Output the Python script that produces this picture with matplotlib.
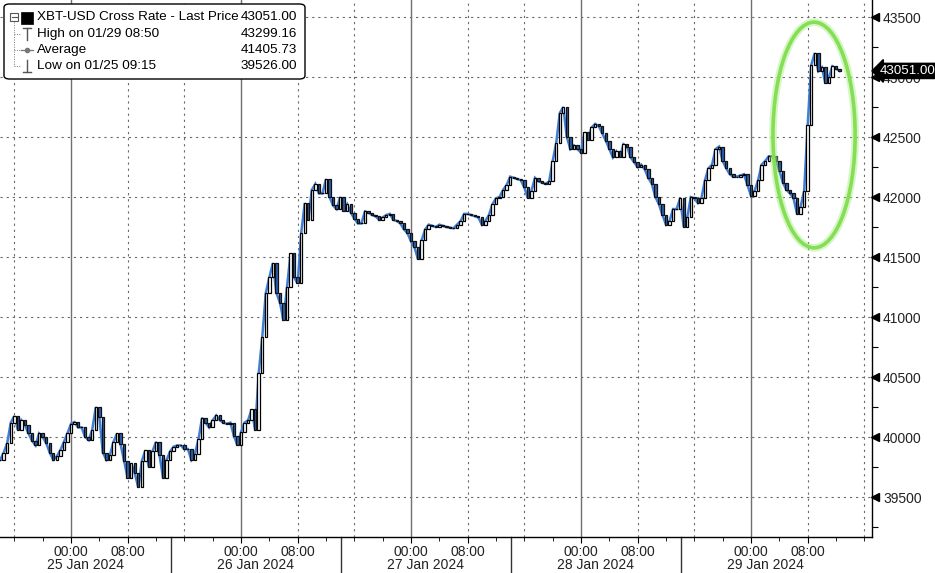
import numpy as np
import matplotlib
matplotlib.use("Agg")
import matplotlib.pyplot as plt
import matplotlib.transforms as mtransforms
from matplotlib import font_manager
from matplotlib.patches import Ellipse, FancyBboxPatch, Rectangle

# ---------------- data (30-minute closes, hours since 25 Jan 2024 00:00) ----------------
start_hour = -10.0          # 24 Jan 2024 14:00
step_hours = 0.5

close_24jan = [39810, 39870, 39950, 40120, 40175, 40060, 40140, 40100, 40030, 39970,
               39930, 40030, 40000, 39950, 39870, 39810, 39840, 39890, 39960, 40030]
close_25jan = [40110, 40125, 40080, 40080, 40000, 39975, 40060, 40250, 40170, 39870,
               39810, 39850, 39960, 40030, 39940, 39800, 39660, 39780, 39700, 39580,
               39800, 39890, 39750, 39880, 39960, 39850, 39660, 39810, 39880, 39920,
               39930, 39930, 39900, 39900, 39810, 39860, 39980, 40160, 40120, 40080,
               40140, 40180, 40140, 40120, 40110, 40120, 40010, 39930]
close_26jan = [40040, 40120, 40140, 40230, 40060, 40530, 40830, 41200, 41330, 41450,
               41200, 41120, 40975, 41250, 41530, 41330, 41280, 41700, 41950, 41810,
               42060, 42110, 42030, 42030, 42150, 42000, 41930, 41900, 42000, 41880,
               41940, 41870, 41820, 41780, 41780, 41880, 41870, 41850, 41840, 41810,
               41830, 41850, 41860, 41810, 41800, 41780, 41730, 41700]
close_27jan = [41630, 41580, 41480, 41640, 41730, 41770, 41760, 41750, 41770, 41760,
               41750, 41745, 41740, 41770, 41800, 41860, 41860, 41850, 41840, 41830,
               41770, 41800, 41850, 41940, 41990, 42000, 42060, 42100, 42170, 42160,
               42150, 42140, 42080, 41990, 42050, 42160, 42130, 42120, 42110, 42130,
               42300, 42450, 42700, 42750, 42500, 42400, 42430, 42400]
close_28jan = [42370, 42540, 42475, 42580, 42610, 42590, 42530, 42470, 42400, 42330,
               42380, 42330, 42440, 42420, 42330, 42290, 42250, 42270, 42230, 42160,
               42110, 42000, 41940, 41850, 41770, 41800, 41900, 41900, 41990, 41750,
               41830, 42000, 41990, 41950, 41990, 42140, 42240, 42270, 42400, 42420,
               42300, 42240, 42190, 42170, 42170, 42180, 42190, 42100]
close_29jan = [42010, 42050, 42140, 42270, 42300, 42340, 42340, 42300, 42220, 42120,
               42060, 42030, 41990, 41860, 41920, 42050, 42600, 43100, 43200, 43050,
               43080, 42950, 43000, 43090, 43070, 43051]

day_names = ["25 Jan 2024", "26 Jan 2024", "27 Jan 2024", "28 Jan 2024", "29 Jan 2024"]
y_ticks = [39500, 40000, 40500, 41000, 41500, 42000, 42500, 43000, 43500]

legend_rows = ["XBT-USD Cross Rate - Last Price", "High on 01/29 08:50", "Average", "Low on 01/25 09:15"]
legend_vals = ["43051.00", "43299.16", "41405.73", "39526.00"]
last_price = 43051.00

# fonts
_names = {f.name for f in font_manager.fontManager.ttflist}
if "Liberation Sans Narrow" in _names:
    FONT, FS = "Liberation Sans Narrow", 11.0
else:
    FONT, FS = "Liberation Sans", 9.7
AXFONT = "Liberation Sans"

# ---------------- figure ----------------
W, H = 935, 573
fig = plt.figure(figsize=(W / 100, H / 100), dpi=100)
fig.patch.set_facecolor("white")
ax_right_px, ax_bottom_px = 872, 537
ax = fig.add_axes([0, (H - ax_bottom_px) / H, ax_right_px / W, ax_bottom_px / H])
ax.set_facecolor("white")

closes = np.array(close_24jan + close_25jan + close_26jan + close_27jan + close_28jan + close_29jan, float)
t = start_hour + step_hours * np.arange(len(closes))
opens = np.concatenate([[closes[0]], closes[:-1]])

ax.set_xlim(-10.02, 113.08)
ax.set_ylim(39167, 43642)

# grid
for yv in y_ticks:
    ax.axhline(yv, color="#6a6a6a", lw=0.8, ls=(0, (2, 3.5)), zorder=1)
for d in range(-1, 5):
    base = 24 * d
    if d >= 0:
        ax.axvline(base, color="#707070", lw=1.0, zorder=1)
    for off in (8, 16):
        h = base + off
        if -10 <= h <= 113:
            ax.axvline(h, color="#6a6a6a", lw=0.8, ls=(0, (2, 3.5)), zorder=1)

# price line + candles
ax.plot(t, closes, color="#3f7fd8", lw=1.8, zorder=2, solid_joinstyle="miter")
up = closes >= opens
bw = 0.34
ax.bar(t[up], (closes - opens)[up], bottom=opens[up], width=bw, color="white",
       edgecolor="black", lw=0.9, zorder=3)
ax.bar(t[~up], (closes - opens)[~up], bottom=opens[~up], width=bw, color="#2c5fb0",
       edgecolor="#111111", lw=0.9, zorder=3)

# spines
for s in ("top", "left"):
    ax.spines[s].set_visible(False)
ax.spines["right"].set_color("black")
ax.spines["bottom"].set_color("black")
ax.spines["right"].set_linewidth(1.0)
ax.spines["bottom"].set_linewidth(1.0)

# y axis on right
ax.yaxis.tick_right()
ax.set_yticks(y_ticks)
ax.set_yticks(np.arange(39250, 43750, 500), minor=True)
ax.tick_params(axis="y", which="major", length=0, pad=8, labelsize=10, labelcolor="#222222")
ax.tick_params(axis="y", which="minor", length=4, width=0.8, color="black")
ax.tick_params(axis="y", which="both", left=False, right=True)
for lab in ax.get_yticklabels():
    lab.set_fontfamily(AXFONT)
tri_tr = ax.get_yaxis_transform() + mtransforms.ScaledTranslation(3 / 100, 0, fig.dpi_scale_trans)
ax.plot([1] * len(y_ticks), y_ticks, marker="<", ls="none", color="black", ms=5.5,
        transform=tri_tr, clip_on=False, zorder=5)

# x axis
major_x = []
labels_x = []
for d in range(5):
    major_x += [24 * d, 24 * d + 8]
    labels_x += ["00:00", "08:00"]
ax.set_xticks(major_x)
ax.set_xticklabels(labels_x)
ax.set_xticks([h for h in range(-8, 113, 4) if h not in major_x], minor=True)
ax.tick_params(axis="x", which="major", length=4, pad=2, labelsize=10, labelcolor="#222222")
ax.tick_params(axis="x", which="minor", length=3)
for lab in ax.get_xticklabels():
    lab.set_fontfamily(AXFONT)

xt = ax.get_xaxis_transform()
for d, name in enumerate(day_names):
    ax.text(24 * d + 2.0, -0.052, name, transform=xt, ha="center", va="center",
            fontsize=10, family=AXFONT, color="#222222", clip_on=False)
for d in range(4):
    ax.plot([24 * d + 14.1] * 2, [0, -0.08], transform=xt, color="#333333", lw=1.0, clip_on=False)

# last price tag
tag_tr = ax.get_yaxis_transform() + mtransforms.ScaledTranslation(8 / 100, 0, fig.dpi_scale_trans)
ax.text(1, last_price, "43051.00", transform=tag_tr, ha="left", va="center", fontsize=9.6,
        family=AXFONT, color="white", clip_on=False, zorder=10,
        bbox=dict(boxstyle="larrow,pad=0.12", fc="black", ec="black"))

# green ellipse highlight
ell_c = (104.9, 42517)
ell = Ellipse(ell_c, width=11.6, height=1880, fill=False, ec="#a8ec80", lw=5.5, alpha=0.45,
              zorder=6, clip_on=False)
ax.add_patch(ell)
ell2 = Ellipse(ell_c, width=11.6, height=1880, fill=False, ec="#84df55", lw=2.6,
               zorder=7, clip_on=False)
ax.add_patch(ell2)

# ---------------- legend box (figure pixels) ----------------
def fx(x):
    return x / W

def fy(y):
    return 1 - y / H

box = FancyBboxPatch((fx(4), fy(79)), fx(301), 75 / H, boxstyle="round,pad=0,rounding_size=0.006",
                     transform=fig.transFigure, fc="white", ec="black", lw=1.0, zorder=20)
fig.patches.append(box)

rows_y = [17, 34, 50, 66]
for i, (lab, val) in enumerate(zip(legend_rows, legend_vals)):
    fig.text(fx(37), fy(rows_y[i]), lab, ha="left", va="center", fontsize=FS,
             family=FONT, color="black", zorder=21)
    fig.text(fx(297), fy(rows_y[i]), val, ha="right", va="center", fontsize=FS,
             family=FONT, color="black", zorder=21)

# tree icons
fig.patches.append(Rectangle((fx(10), fy(21)), fx(8), 8 / H, transform=fig.transFigure,
                             fc="white", ec="#555555", lw=0.8, zorder=21))
fig.lines.append(plt.Line2D([fx(11.5), fx(16.5)], [fy(17), fy(17)], transform=fig.transFigure,
                            color="#555555", lw=0.8, zorder=22))
fig.patches.append(Rectangle((fx(21), fy(24)), fx(12), 12 / H, transform=fig.transFigure,
                             fc="black", ec="black", lw=0.5, zorder=21))
fig.lines.append(plt.Line2D([fx(14), fx(14)], [fy(22), fy(66)], transform=fig.transFigure,
                            color="#777777", lw=0.7, ls=(0, (1, 1.5)), zorder=21))
for yy in rows_y[1:]:
    fig.lines.append(plt.Line2D([fx(14), fx(20)], [fy(yy), fy(yy)], transform=fig.transFigure,
                                color="#777777", lw=0.7, ls=(0, (1, 1.5)), zorder=21))
# High icon
fig.lines.append(plt.Line2D([fx(23), fx(31)], [fy(28), fy(28)], transform=fig.transFigure,
                            color="#555555", lw=1.0, zorder=22))
fig.lines.append(plt.Line2D([fx(27), fx(27)], [fy(28), fy(40)], transform=fig.transFigure,
                            color="#555555", lw=1.0, zorder=22))
# Average icon
fig.lines.append(plt.Line2D([fx(21), fx(33)], [fy(50), fy(50)], transform=fig.transFigure,
                            color="#777777", lw=0.9, zorder=22))
fig.lines.append(plt.Line2D([fx(27)], [fy(50)], transform=fig.transFigure, marker="o", ms=3,
                            color="#777777", zorder=22))
# Low icon
fig.lines.append(plt.Line2D([fx(27), fx(27)], [fy(60), fy(72)], transform=fig.transFigure,
                            color="#555555", lw=1.0, zorder=22))
fig.lines.append(plt.Line2D([fx(23), fx(31)], [fy(72), fy(72)], transform=fig.transFigure,
                            color="#555555", lw=1.0, zorder=22))

fig.savefig("out.png", dpi=100, facecolor="white")
